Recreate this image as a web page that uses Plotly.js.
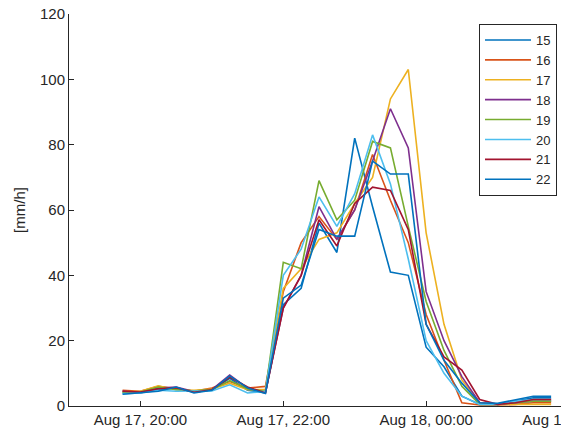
<!DOCTYPE html>
<html>
<head>
<meta charset="utf-8">
<script src="https://cdn.plot.ly/plotly-3.0.1.min.js"></script>
<style>
html,body{margin:0;padding:0;overflow:hidden;background:#fff;width:561px;height:434px;}
#chart{width:640px;height:434px;}
</style>
</head>
<body>
<div id="chart"></div>
<script>
const times = [
  '2019-08-17 19:45','2019-08-17 20:00','2019-08-17 20:15','2019-08-17 20:30','2019-08-17 20:45',
  '2019-08-17 21:00','2019-08-17 21:15','2019-08-17 21:30','2019-08-17 21:45','2019-08-17 22:00',
  '2019-08-17 22:15','2019-08-17 22:30','2019-08-17 22:45','2019-08-17 23:00','2019-08-17 23:15',
  '2019-08-17 23:30','2019-08-17 23:45','2019-08-18 00:00','2019-08-18 00:15','2019-08-18 00:30',
  '2019-08-18 00:45','2019-08-18 01:00','2019-08-18 01:15','2019-08-18 01:30','2019-08-18 01:45'
];
const seriesNames = ['15','16','17','18','19','20','21','22'];
const s15 = [4.0,4.2,5.0,5.5,4.3,4.8,8.5,4.8,4.0, 31,36,56,47,82,61,41,40,18,12,3,0.5,0.5,1.5,2.5,2.5];
const s16 = [4.8,4.5,6.0,5.3,4.5,5.5,7.5,5.5,6.0, 35,50,58,51,60,77,63,50,28,14,1,0.3,0.3,0.5,1,1];
const s17 = [4.3,4.5,6.2,5.0,4.8,5.2,7.0,5.0,5.0, 36,42,51,53,62,70,94,103,53,25,8,1,0.5,0.5,0.5,0.5];
const s18 = [4.5,4.0,5.5,5.8,4.4,5.0,9.5,5.5,4.2, 30,40,61,51,60,75,91,79,35,20,9,1,0.5,1,1.5,1.5];
const s19 = [4.2,4.3,5.8,5.0,4.6,5.0,7.8,5.2,4.5, 44,42,69,57,63,81,79,55,32,17,6,0.5,0.5,1,1.5,1.5];
const s20 = [3.8,4.0,4.8,4.5,4.6,4.6,6.5,4.0,4.5, 40,48,64,55,65,83,68,45,20,10,3,0.5,0.5,1.5,2,2];
const s21 = [4.5,4.3,5.3,5.6,4.2,5.0,8.8,5.8,4.0, 30,40,57,49,62,67,66,54,25,15,11,2,0.5,1,2,2];
const s22 = [3.6,4.0,4.5,5.8,4.0,4.8,9.2,5.5,3.8, 33,37,54,52,52,75,71,71,25,14,7,1,0.8,2,3,3];
const tickVals = ['2019-08-17 20:00','2019-08-17 22:00','2019-08-18 00:00','2019-08-18 02:00'];
const tickText = ['Aug 17, 20:00','Aug 17, 22:00','Aug 18, 00:00','Aug 18, 02:00'];

const allSeries = [s15,s16,s17,s18,s19,s20,s21,s22];
const colors = ['#0072BD','#D95319','#EDB120','#7E2F8E','#77AC30','#4DBEEE','#A2142F','#0072BD'];

const traces = allSeries.map((s,i)=>({
  x: times, y: s, type:'scatter', mode:'lines', name: seriesNames[i],
  line:{color:colors[i], width:1.6}
}));

const fam = 'Liberation Sans, Arial, sans-serif';
const ink = '#262626';
const layout = {
  width:640, height:434,
  margin:{l:69, r:71, t:14, b:28},
  paper_bgcolor:'#fff', plot_bgcolor:'#fff',
  font:{family:fam, size:15, color:ink},
  showlegend:true,
  legend:{x:0.976, y:0.9745, xanchor:'right', yanchor:'top',
    bordercolor:ink, borderwidth:1, bgcolor:'#fff',
    font:{family:fam, size:13, color:ink}, itemwidth:46, tracegroupgap:0},
  xaxis:{type:'date', range:['2019-08-17 19:00','2019-08-18 02:00'],
    tickvals:tickVals, ticktext:tickText,
    ticks:'inside', ticklen:5, tickcolor:ink,
    showline:true, linecolor:ink, linewidth:1, showgrid:false, zeroline:false,
    tickfont:{family:fam, size:15, color:ink}},
  yaxis:{range:[0,120], dtick:20, tick0:0,
    ticks:'inside', ticklen:5, tickcolor:ink,
    showline:true, linecolor:ink, linewidth:1, showgrid:false, zeroline:false,
    tickfont:{family:fam, size:15, color:ink},
    title:{text:'[mm/h]', font:{family:fam, size:15, color:ink}, standoff:10}}
};
Plotly.newPlot('chart', traces, layout, {displayModeBar:false, staticPlot:true});
</script>
</body>
</html>
